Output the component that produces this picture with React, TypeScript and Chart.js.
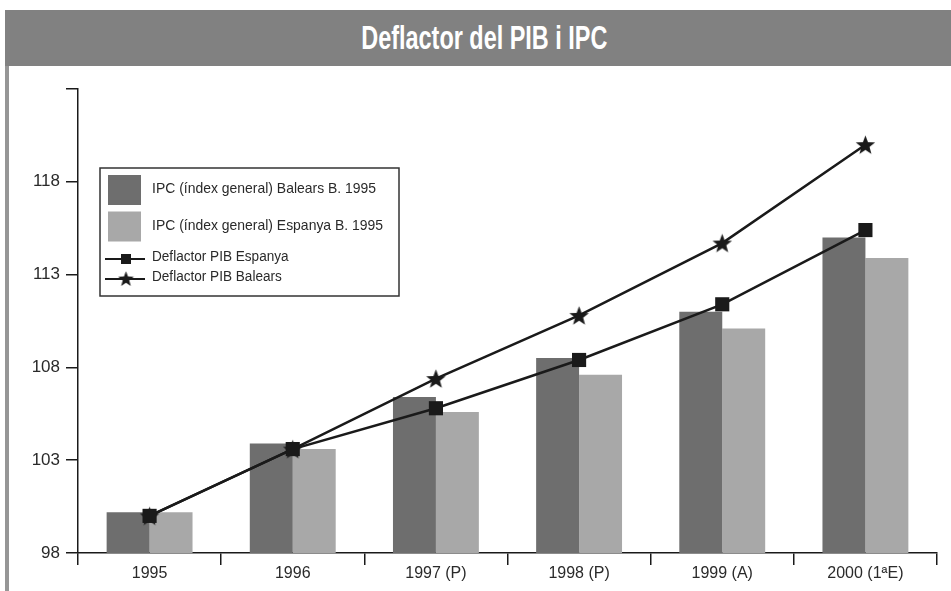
import React, { useEffect, useRef } from "react";
import { Chart, registerables } from "chart.js";

Chart.register(...registerables);

const TITLE = "Deflactor del PIB i IPC";
const categories = ["1995", "1996", "1997 (P)", "1998 (P)", "1999 (A)", "2000 (1ªE)"];
const ipcBalears = [100.2, 103.9, 106.4, 108.5, 111.0, 115.0];
const ipcEspanya = [100.2, 103.6, 105.6, 107.6, 110.1, 113.9];
const deflactorEspanya = [100.0, 103.6, 105.8, 108.4, 111.4, 115.4];
const deflactorBalears = [100.0, 103.6, 107.4, 110.8, 114.7, 120.0];
const seriesLabels = [
  "IPC (índex general) Balears B. 1995",
  "IPC (índex general) Espanya B. 1995",
  "Deflactor PIB Espanya",
  "Deflactor PIB Balears",
];
const yMin = 98;
const yMax = 123;
const yStep = 5;

const FONT = '"Liberation Sans", Arial, Helvetica, sans-serif';
const DARK = "#6e6e6e";
const LIGHT = "#a8a8a8";
const INK = "#1a1a1a";
const TEXT = "#2a2a2a";

function makeStar(size: number, color: string) {
  const c = document.createElement("canvas");
  c.width = size;
  c.height = size;
  const ctx = c.getContext("2d")!;
  const cx = size / 2;
  const cy = size / 2 + 0.9;
  const ro = size / 2 - 0.3;
  const ri = ro * 0.42;
  ctx.beginPath();
  for (let i = 0; i < 10; i++) {
    const r = i % 2 === 0 ? ro : ri;
    const a = -Math.PI / 2 + (i * Math.PI) / 5;
    const x = cx + r * Math.cos(a);
    const y = cy + r * Math.sin(a);
    if (i === 0) ctx.moveTo(x, y);
    else ctx.lineTo(x, y);
  }
  ctx.closePath();
  ctx.fillStyle = color;
  ctx.fill();
  return c;
}

function drawScaledText(ctx: CanvasRenderingContext2D, text: string, x: number, y: number, sx: number) {
  ctx.save();
  ctx.translate(x, y);
  ctx.scale(sx, 1);
  ctx.fillText(text, 0, 0);
  ctx.restore();
}

export default function App() {
  const ref = useRef<HTMLCanvasElement | null>(null);

  useEffect(() => {
    const canvas = ref.current;
    if (!canvas) return;
    const star = makeStar(21, INK);
    const starSmall = makeStar(17, INK);

    const legendPlugin = {
      id: "customLegend",
      afterDraw(chart: any) {
        const ctx = chart.ctx as CanvasRenderingContext2D;
        const ds = chart.data.datasets;
        ctx.save();
        ctx.fillStyle = "#ffffff";
        ctx.fillRect(100, 168, 299, 128);
        ctx.strokeStyle = "#333333";
        ctx.lineWidth = 1.5;
        ctx.strokeRect(100, 168, 299, 128);
        ctx.textBaseline = "middle";
        ctx.textAlign = "left";
        const bars = ds.filter((d: any) => d.type === "bar");
        bars.forEach((d: any, i: number) => {
          const y = 175 + i * 36.5;
          ctx.fillStyle = d.backgroundColor;
          ctx.fillRect(108, y, 33, 30);
          ctx.fillStyle = TEXT;
          ctx.font = `15px ${FONT}`;
          drawScaledText(ctx, d.label, 152, y + 14, 0.93);
        });
        const lines = ds.filter((d: any) => d.type === "line");
        lines.forEach((d: any, i: number) => {
          const y = 259 + i * 20;
          ctx.strokeStyle = INK;
          ctx.lineWidth = 2;
          ctx.beginPath();
          ctx.moveTo(105, y);
          ctx.lineTo(145, y);
          ctx.stroke();
          if (d.pointStyle === "rect") {
            ctx.fillStyle = INK;
            ctx.fillRect(121, y - 5, 10, 10);
          } else {
            ctx.drawImage(starSmall, 126 - 8.5, y - 9);
          }
          ctx.fillStyle = TEXT;
          ctx.font = `14px ${FONT}`;
          drawScaledText(ctx, d.label, 152, y - 2, 0.97);
        });
        ctx.restore();
      },
    };

    const chart = new Chart(canvas, {
      type: "bar",
      data: {
        labels: categories,
        datasets: [
          {
            type: "line",
            label: seriesLabels[2],
            data: deflactorEspanya,
            borderColor: INK,
            borderWidth: 2.5,
            pointStyle: "rect",
            pointRadius: 10,
            pointBackgroundColor: INK,
            pointBorderColor: INK,
            pointBorderWidth: 0,
            order: 0,
          },
          {
            type: "line",
            label: seriesLabels[3],
            data: deflactorBalears,
            borderColor: INK,
            borderWidth: 2.5,
            pointStyle: star as any,
            pointRadius: 11,
            order: 0,
          },
          {
            type: "bar",
            label: seriesLabels[0],
            data: ipcBalears,
            backgroundColor: DARK,
            categoryPercentage: 0.6,
            barPercentage: 1.0,
            order: 1,
          },
          {
            type: "bar",
            label: seriesLabels[1],
            data: ipcEspanya,
            backgroundColor: LIGHT,
            categoryPercentage: 0.6,
            barPercentage: 1.0,
            order: 1,
          },
        ] as any,
      },
      options: {
        responsive: false,
        animation: false,
        devicePixelRatio: 1,
        layout: { padding: { left: 28, top: 89, right: 14, bottom: 0 } },
        plugins: {
          legend: { display: false },
          title: { display: false },
          tooltip: { enabled: false },
        },
        scales: {
          x: {
            grid: {
              display: true,
              drawOnChartArea: false,
              drawTicks: true,
              tickLength: 12,
              color: INK,
              lineWidth: 1.5,
              offset: true,
            },
            border: { display: true, color: INK, width: 1.5 },
            ticks: { color: TEXT, font: { family: FONT, size: 16 }, padding: -1 },
            afterFit: (s: any) => {
              s.height = 38;
            },
          },
          y: {
            min: yMin,
            max: yMax,
            grid: {
              display: true,
              drawOnChartArea: false,
              drawTicks: true,
              tickLength: 12,
              color: INK,
              lineWidth: 1.5,
            },
            border: { display: true, color: INK, width: 1.5 },
            ticks: {
              stepSize: yStep,
              color: TEXT,
              font: { family: FONT, size: 17 },
              padding: 6,
              callback: (v: any) => (v === yMax ? "" : String(v)),
            },
            afterFit: (s: any) => {
              s.width = 50;
            },
          },
        },
      } as any,
      plugins: [legendPlugin],
    });
    return () => chart.destroy();
  }, []);

  return (
    <div style={{ position: "absolute", left: 0, top: 0, width: 951, height: 591, background: "#fff", overflow: "hidden" }}>
      <div
        style={{
          position: "absolute",
          left: 5,
          top: 10,
          width: 946,
          height: 56,
          background: "#818181",
          color: "#fff",
          textAlign: "center",
          lineHeight: "56px",
          fontFamily: FONT,
          fontWeight: "bold",
          fontSize: 33,
          paddingLeft: 12,
          boxSizing: "border-box",
          whiteSpace: "nowrap",
        }}
      >
        <span style={{ display: "inline-block", transform: "scaleX(0.71)", transformOrigin: "center" }}>{TITLE}</span>
      </div>
      <div style={{ position: "absolute", left: 5, top: 66, width: 4, height: 525, background: "#969696" }} />
      <canvas ref={ref} width={951} height={591} style={{ position: "absolute", left: 0, top: 0, width: 951, height: 591 }} />
    </div>
  );
}
